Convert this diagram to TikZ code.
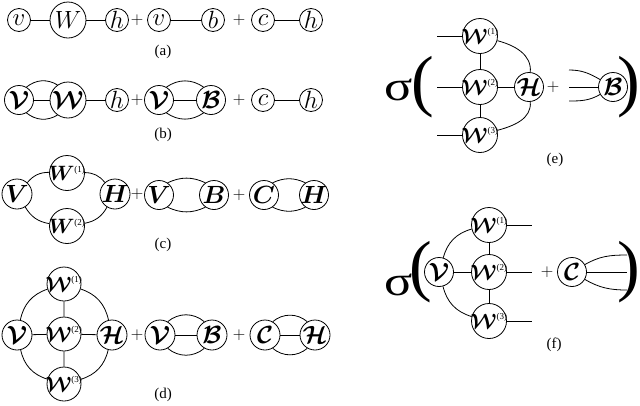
\documentclass[tikz,border=0pt]{standalone}
\usepackage{amsmath}
\usepackage{bm}
\usepackage{fontspec}
\setmainfont{Liberation Serif}
\newcommand\cV{\bm{\mathcal{V}}}
\newcommand\cW{\bm{\mathcal{W}}}
\newcommand\cB{\bm{\mathcal{B}}}
\newcommand\cC{\bm{\mathcal{C}}}
\newcommand\cH{\bm{\mathcal{H}}}
\newcommand\supn[1]{^{\hbox{\fontsize{9}{9}\selectfont(#1)}}}
\tikzset{
 nd/.style={circle, draw, line width=0.8pt, inner sep=0pt},
 t/.style={label={[inner sep=0pt, font=\fontsize{24}{24}\selectfont]center:#1}},
 tw/.style={label={[inner sep=0pt, font=\fontsize{20.5}{20.5}\selectfont]center:#1}},
 sm/.style={nd, minimum size=23pt},
 md/.style={nd, minimum size=29pt},
 lg/.style={nd, minimum size=36pt},
 ln/.style={line width=0.8pt},
 plus/.style={inner sep=0pt, font=\fontsize{18}{18}\selectfont},
 lab/.style={inner sep=0pt, font=\fontsize{15}{15}\selectfont},
 bigp/.style={inner sep=0pt, font=\fontsize{68}{68}\selectfont},
 sig/.style={inner sep=0pt, font=\fontsize{42}{42}\selectfont},
}
\begin{document}
\begin{tikzpicture}[x=1pt,y=1pt]
\useasboundingbox (0,0) rectangle (640,-405);
% ---------- (a)
\node[sm,t={$v$}] (a1) at (19,-20) {};
\node[lg,t={$W$}] (a2) at (68,-20) {};
\node[sm,t={$h$}] (a3) at (117,-20) {};
\node[plus] (ap1) at (137,-20) {$+$};
\node[sm,t={$v$}] (a4) at (159,-20) {};
\node[sm,t={$b$}] (a5) at (213,-20) {};
\node[plus] (ap2) at (239,-20) {$+$};
\node[sm,t={$c$}] (a6) at (263,-20) {};
\node[sm,t={$h$}] (a7) at (311,-20) {};
\draw[ln] (a1)--(a2) (a2)--(a3) (a4)--(a5) (a6)--(a7);
\node[lab] (la) at (163,-52) {(a)};
% ---------- (b)
\node[md,t={$\cV$}] (b1) at (19,-100) {};
\node[lg,t={$\cW$}] (b2) at (68,-100) {};
\node[sm,t={$h$}] (b3) at (117,-100) {};
\node[plus] (bp1) at (137,-100) {$+$};
\node[md,t={$\cV$}] (b4) at (159,-100) {};
\node[md,t={$\cB$}] (b5) at (211,-100) {};
\node[plus] (bp2) at (239,-100) {$+$};
\node[sm,t={$c$}] (b6) at (263,-100) {};
\node[sm,t={$h$}] (b7) at (311,-100) {};
\draw[ln] (b1)--(b2) (b2)--(b3) (b4)--(b5) (b6)--(b7);
\draw[ln] (b1.60) to[bend left=35] (b2.125);
\draw[ln] (b1.-60) to[bend right=35] (b2.-125);
\draw[ln] (b4.60) to[bend left=35] (b5.120);
\draw[ln] (b4.-60) to[bend right=35] (b5.-120);
\node[lab] (lb) at (163,-135) {(b)};
% ---------- (c)
\node[md,minimum size=30pt,t={$\bm{V}$}] (c1) at (17,-194) {};
\node[lg,minimum size=35pt,tw={$\bm{W}\supn{1}$}] (c2) at (67,-173) {};
\node[lg,minimum size=35pt,tw={$\bm{W}\supn{2}$}] (c3) at (67,-226) {};
\node[md,minimum size=30pt,t={$\bm{H}$}] (c4) at (115,-194) {};
\draw[ln] (c1) to[bend left=25] (c2);
\draw[ln] (c2) to[bend left=25] (c4);
\draw[ln] (c1) to[bend right=25] (c3);
\draw[ln] (c3) to[bend right=25] (c4);
\node[plus] (cp1) at (137,-194) {$+$};
\node[md,t={$\bm{V}$}] (c5) at (159,-195) {};
\node[md,t={$\bm{B}$}] (c6) at (214,-195) {};
\node[plus] (cp2) at (239,-195) {$+$};
\node[md,t={$\bm{C}$}] (c7) at (264,-195) {};
\node[md,t={$\bm{H}$}] (c8) at (314,-195) {};
\draw[ln] (c5.55) to[bend left=25] (c6.125);
\draw[ln] (c5.-55) to[bend right=25] (c6.-125);
\draw[ln] (c7.55) to[bend left=25] (c8.125);
\draw[ln] (c7.-55) to[bend right=25] (c8.-125);
\node[lab] (lc) at (163,-245) {(c)};
% ---------- (d)
\node[md,minimum size=30pt,t={$\cV$}] (d1) at (17,-335) {};
\node[lg,minimum size=34pt,tw={$\cW\supn{1}$}] (d2) at (64,-284) {};
\node[lg,minimum size=34pt,tw={$\cW\supn{2}$}] (d3) at (64,-334) {};
\node[lg,minimum size=34pt,tw={$\cW\supn{3}$}] (d4) at (64,-384) {};
\node[md,minimum size=30pt,t={$\cH$}] (d5) at (112,-335) {};
\draw[ln] (d1)--(d3) (d3)--(d5) (d2)--(d3) (d3)--(d4);
\draw[ln] (d1) to[bend left=30] (d2);
\draw[ln] (d2) to[bend left=30] (d5);
\draw[ln] (d1) to[bend right=30] (d4);
\draw[ln] (d4) to[bend right=30] (d5);
\node[plus] (dp1) at (137,-335) {$+$};
\node[md,minimum size=30pt,t={$\cV$}] (d6) at (160,-335) {};
\node[md,minimum size=30pt,t={$\cB$}] (d7) at (212,-335) {};
\node[plus] (dp2) at (239,-335) {$+$};
\node[md,minimum size=30pt,t={$\cC$}] (d8) at (265,-335) {};
\node[md,minimum size=30pt,t={$\cH$}] (d9) at (315,-335) {};
\draw[ln] (d6)--(d7) (d8)--(d9);
\draw[ln] (d6.60) to[bend left=40] (d7.120);
\draw[ln] (d6.-60) to[bend right=40] (d7.-120);
\draw[ln] (d8.60) to[bend left=40] (d9.120);
\draw[ln] (d8.-60) to[bend right=40] (d9.-120);
\node[lab] (ld) at (163,-395) {(d)};
% ---------- (e)
\node[sig] (es) at (399,-90) {\scalebox{1.25}[1]{σ}};
\node[bigp] (eo) at (423,-87) {(};
\node[lg,minimum size=35pt,tw={$\cW\supn{1}$}] (e1) at (480,-36) {};
\node[lg,minimum size=35pt,tw={$\cW\supn{2}$}] (e2) at (480,-87) {};
\node[lg,minimum size=35pt,tw={$\cW\supn{3}$}] (e3) at (480,-135) {};
\node[md,t={$\cH$}] (e4) at (529,-87) {};
\coordinate (el1) at (437,-36);
\coordinate (el2) at (437,-87);
\coordinate (el3) at (437,-135);
\draw[ln] (el1)--(e1) (el2)--(e2) (el3)--(e3);
\draw[ln] (e1)--(e2) (e2)--(e3) (e2)--(e4);
\draw[ln] (e1) to[out=-15,in=85] (e4);
\draw[ln] (e3) to[out=15,in=-85] (e4);
\node[plus] (ep) at (553,-87) {$+$};
\node[md,t={$\cB$}] (e5) at (613,-87) {};
\coordinate (er1) at (569,-70);
\coordinate (er2) at (569,-87);
\coordinate (er3) at (569,-101);
\draw[ln] (er1) to[out=0,in=150] (e5);
\draw[ln] (er2) -- (e5);
\draw[ln] (er3) to[out=0,in=-150] (e5);
\node[bigp] (ec) at (629,-87) {)};
\node[lab] (le) at (555,-160) {(e)};
% ---------- (f)
\node[sig] (fs) at (399,-285) {\scalebox{1.25}[1]{σ}};
\node[bigp] (fo) at (421,-272) {(};
\node[md,t={$\cV$}] (f1) at (439,-272) {};
\node[lg,minimum size=35pt,tw={$\cW\supn{1}$}] (f2) at (489,-225) {};
\node[lg,minimum size=35pt,tw={$\cW\supn{2}$}] (f3) at (489,-272) {};
\node[lg,minimum size=35pt,tw={$\cW\supn{3}$}] (f4) at (489,-321) {};
\draw[ln] (f1)--(f3) (f2)--(f3) (f3)--(f4);
\draw[ln] (f1) to[bend left=30] (f2);
\draw[ln] (f1) to[bend right=30] (f4);
\coordinate (fr1) at (532,-225);
\coordinate (fr2) at (532,-272);
\coordinate (fr3) at (532,-321);
\draw[ln] (f2)--(fr1) (f3)--(fr2) (f4)--(fr3);
\node[plus] (fp) at (547,-272) {$+$};
\node[md,t={$\cC$}] (f5) at (572,-272) {};
\coordinate (fc1) at (627,-255);
\coordinate (fc2) at (627,-272);
\coordinate (fc3) at (627,-290);
\draw[ln] (f5) to[out=30,in=180] (fc1);
\draw[ln] (f5) -- (fc2);
\draw[ln] (f5) to[out=-30,in=180] (fc3);
\node[bigp] (fcl) at (629,-272) {)};
\node[lab] (lf) at (554,-345) {(f)};
\end{tikzpicture}
\end{document}
